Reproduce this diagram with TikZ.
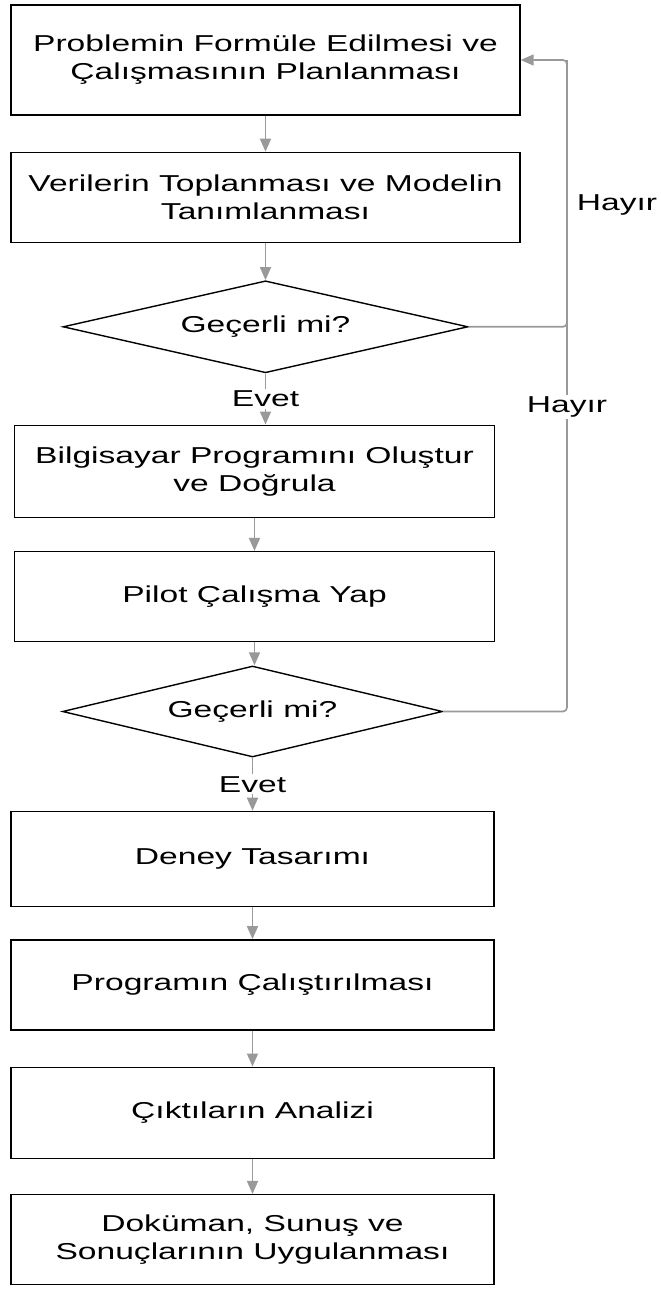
\documentclass[tikz,border=0pt]{standalone}
\usepackage{fontspec}
\setmainfont{Liberation Sans}[FakeStretch=1.46]
\usepackage{tikz}
\usetikzlibrary{positioning,arrows.meta,shapes.geometric}
\usepackage{xcolor}
\definecolor{flowgray}{HTML}{999999}

\begin{document}
\begin{tikzpicture}[x=1pt, y=-1pt,
      font=\fontsize{23}{28}\selectfont,
      box/.style={draw, line width=1.4pt, align=center, inner sep=0pt,
                  minimum width=483pt, minimum height=92pt},
      cond/.style={draw, diamond, line width=1.4pt, inner sep=0pt, aspect=4.4},
      flow/.style={draw=flowgray, line width=1.7pt, -{Triangle[length=13pt, width=11pt]}},
      line/.style={draw=flowgray, line width=1.7pt},
      lbl/.style={inner sep=2pt}]
    \useasboundingbox (0,0) rectangle (661,1291);
    \node[box, minimum width=509pt, minimum height=110pt] (prob) at (265.5,60)
      {Problemin Formüle Edilmesi ve\\Çalışmasının Planlanması};
    \node[box, minimum width=509pt, minimum height=90pt, below=36pt of prob] (veri)
      {Verilerin Toplanması ve Modelin\\Tanımlanması};
    \node[cond, minimum width=405pt, minimum height=92pt, below=37pt of veri] (gec1) {Geçerli mi?};
    \node[box, minimum width=480pt, minimum height=92pt, below=51pt of gec1, xshift=-11pt] (bilg)
      {Bilgisayar Programını Oluştur\\ve Doğrula};
    \node[box, minimum width=480pt, minimum height=90pt, below=33pt of bilg] (pilot) {Pilot Çalışma Yap};
    \node[cond, minimum width=380pt, minimum height=91pt, below=23pt of pilot, xshift=-2pt] (gec2) {Geçerli mi?};
    \node[box, minimum height=95pt, below=53pt of gec2] (deney) {Deney Tasarımı};
    \node[box, minimum height=90pt, below=32pt of deney] (prog) {Programın Çalıştırılması};
    \node[box, minimum height=91pt, below=36pt of prog] (cikti) {Çıktıların Analizi};
    \node[box, minimum height=90pt, below=35pt of cikti] (dok) {Doküman, Sunuş ve\\Sonuçlarının Uygulanması};
    \coordinate (back) at (567,60);

    \draw[flow] (prob) -- (veri);
    \draw[flow] (veri) -- (gec1);
    \draw[flow] (gec1.south) -- node[lbl, fill=white] {Evet} (gec1.south |- bilg.north);
    \draw[flow] (pilot.south |- bilg.south) -- (pilot);
    \draw[flow] (pilot.south) -- (pilot.south |- gec2.north);
    \draw[flow] (gec2.south) -- node[lbl, fill=white] {Evet} (gec2.south |- deney.north);
    \draw[flow] (deney) -- (prog);
    \draw[flow] (prog) -- (cikti);
    \draw[flow] (cikti) -- (dok);
    % Hayir loops back to the top
    \draw[flow, rounded corners=4pt] (gec2.east) -| (back) -- (prob.east);
    \draw[line, rounded corners=4pt] (gec1.east) -| (back);
    \node[lbl, fill=white] (hayir2) at (567,407) {Hayır};
    \node[lbl] (hayir1) at (617,205) {Hayır};
  \end{tikzpicture}
\end{document}
